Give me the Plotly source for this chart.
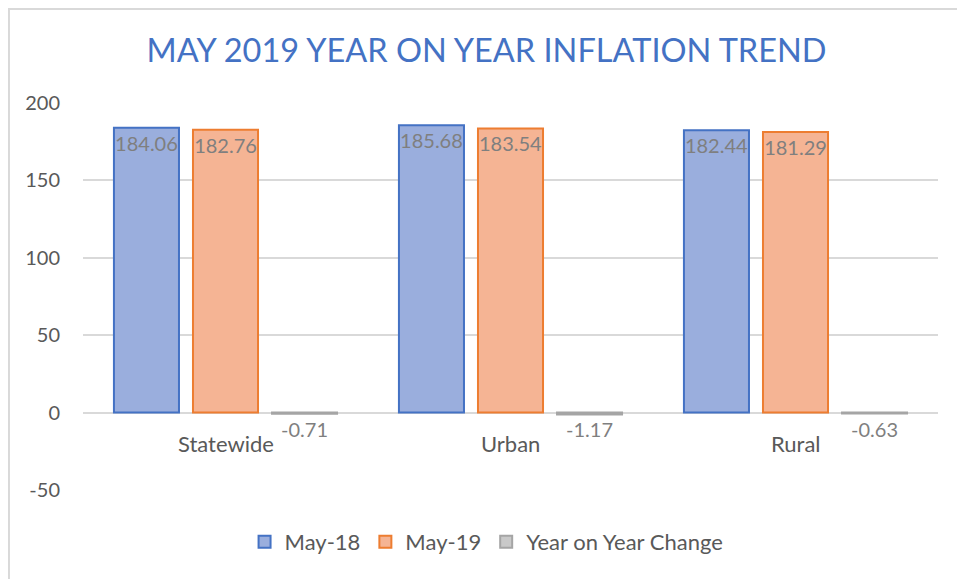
import plotly.graph_objects as go

categories = ["Statewide", "Urban", "Rural"]
may18 = [184.06, 185.68, 182.44]
may19 = [182.76, 183.54, 181.29]
yoy_change = [-0.71, -1.17, -0.63]
y_ticks = [-50, 0, 50, 100, 150, 200]
y_tick_text = ["-50", "0", "50", "100", "150", "200"]

FONT = "Lato"
LABEL = dict(color="#7F7F7F", size=20, family=FONT)
fig = go.Figure()
fig.add_trace(go.Bar(
    name="May-18", x=categories, y=may18,
    marker=dict(color="#9AAEDD", line=dict(color="#4472C4", width=2)),
    text=[f"{v:.2f}" for v in may18], textposition="inside", insidetextanchor="end",
    textangle=0, constraintext="none",
    textfont=LABEL, cliponaxis=False))
fig.add_trace(go.Bar(
    name="May-19", x=categories, y=may19,
    marker=dict(color="#F5B494", line=dict(color="#ED7D31", width=2)),
    text=[f"{v:.2f}" for v in may19], textposition="inside", insidetextanchor="end",
    textangle=0, constraintext="none",
    textfont=LABEL, cliponaxis=False))
fig.add_trace(go.Bar(
    name="Year on Year Change", x=categories, y=yoy_change,
    marker=dict(color="#C9C9C9", line=dict(color="#A5A5A5", width=2)),
    text=[f"{v:.2f}" for v in yoy_change], textposition="outside",
    textangle=0, constraintext="none",
    textfont=LABEL, cliponaxis=False))

for c in categories:
    fig.add_annotation(x=c, y=0, xref="x", yref="y", text=c, showarrow=False,
                       yanchor="middle", yshift=-31,
                       font=dict(color="#595959", size=22, family=FONT))

fig.add_shape(type="rect", xref="paper", yref="paper", x0=-0.0866, x1=1.2, y0=-0.5, y1=1.243,
              line=dict(color="#D9D9D9", width=2), fillcolor="rgba(0,0,0,0)", layer="below")

fig.update_layout(
    width=957, height=571,
    margin=dict(l=75, r=27, t=95, b=89),
    paper_bgcolor="white", plot_bgcolor="white",
    title=dict(text="MAY 2019 YEAR ON YEAR INFLATION TREND", x=0.5, xanchor="center",
               y=0.926, yanchor="middle",
               font=dict(color="#4472C4", size=32.5, family=FONT)),
    barmode="group", bargap=0.168, bargroupgap=0.177,
    xaxis=dict(showticklabels=False, showgrid=False, zeroline=False, showline=False, ticks=""),
    yaxis=dict(range=[-50, 200], tickvals=y_ticks, ticktext=y_tick_text, showgrid=True,
               gridcolor="#D9D9D9", gridwidth=1.5,
               zeroline=True, zerolinecolor="#D9D9D9", zerolinewidth=1.5, showline=False,
               tickfont=dict(color="#595959", size=20, family=FONT), ticklabelstandoff=22),
    legend=dict(orientation="h", x=0.472, xanchor="center", y=-0.134, yanchor="middle",
                font=dict(color="#595959", size=22, family=FONT), traceorder="normal",
                itemwidth=30),
    showlegend=True,
)

fig.write_html("out.html")
